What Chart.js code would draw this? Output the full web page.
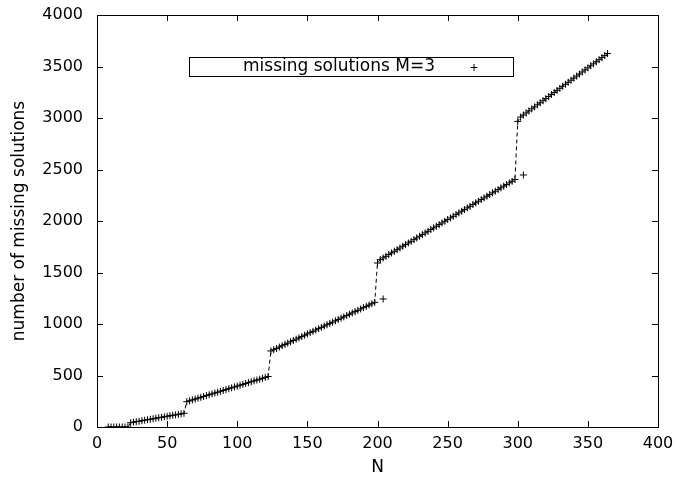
<!DOCTYPE html>
<html>
<head>
<meta charset="utf-8">
<script src="https://cdn.jsdelivr.net/npm/chart.js@4.4.1/dist/chart.umd.min.js"></script>
<style>
  body { margin: 0; background: #fff; }
  canvas { display: block; }
</style>
</head>
<body>
<canvas id="missingChart" width="674" height="486"></canvas>
<script>
// N values (step 2) and number of missing solutions
const nValues = [
    8, 10, 12, 14, 16, 18, 20, 22,
    24, 26, 28, 30, 32, 34, 36, 38, 40, 42, 44, 46, 48, 50, 52, 54, 56, 58, 60, 62,
    64, 66, 68, 70, 72, 74, 76, 78, 80, 82, 84, 86, 88, 90, 92, 94, 96, 98, 100,
    102, 104, 106, 108, 110, 112, 114, 116, 118, 120, 122,
    124, 126, 128, 130, 132, 134, 136, 138, 140, 142, 144, 146, 148, 150, 152, 154,
    156, 158, 160, 162, 164, 166, 168, 170, 172, 174, 176, 178, 180, 182, 184, 186,
    188, 190, 192, 194, 196, 198,
    200, 202, 204, 206, 208, 210, 212, 214, 216, 218, 220, 222, 224, 226, 228, 230,
    232, 234, 236, 238, 240, 242, 244, 246, 248, 250, 252, 254, 256, 258, 260, 262,
    264, 266, 268, 270, 272, 274, 276, 278, 280, 282, 284, 286, 288, 290, 292, 294,
    296, 298,
    300, 302, 304, 306, 308, 310, 312, 314, 316, 318, 320, 322, 324, 326, 328, 330,
    332, 334, 336, 338, 340, 342, 344, 346, 348, 350, 352, 354, 356, 358, 360, 362, 364
];
const missingValues = [
    0, 0, 0, 0, 0, 0, 0, 0,
    42, 47, 52, 56, 61, 66, 71, 75, 80, 85, 90, 94, 99, 104, 109, 114, 118, 123, 128, 133,
    246, 254, 263, 271, 280, 288, 296, 305, 313, 322, 330, 338, 347, 355, 364, 372, 380, 389, 397,
    406, 414, 422, 431, 439, 448, 456, 464, 473, 481, 490,
    738, 751, 763, 776, 789, 802, 814, 827, 840, 853, 865, 878, 891, 904, 916, 929,
    942, 955, 967, 980, 993, 1006, 1018, 1031, 1044, 1057, 1069, 1082, 1095, 1108, 1120, 1133,
    1146, 1159, 1171, 1184, 1197, 1210,
    1592, 1625, 1641, 1657, 1674, 1690, 1706, 1722, 1738, 1755, 1771, 1787, 1803, 1819, 1836, 1852,
    1868, 1884, 1900, 1917, 1933, 1949, 1965, 1981, 1998, 2014, 2030, 2046, 2062, 2079, 2095, 2111,
    2127, 2143, 2160, 2176, 2192, 2208, 2224, 2241, 2257, 2273, 2289, 2305, 2322, 2338, 2354, 2370,
    2386, 2403,
    2967, 3009, 3029, 3049, 3069, 3089, 3108, 3128, 3148, 3168, 3188, 3208, 3228, 3248, 3268, 3288,
    3308, 3327, 3347, 3367, 3387, 3407, 3427, 3447, 3467, 3487, 3507, 3526, 3546, 3566, 3586, 3606, 3626
];
// stray points that sit off the dashed line
const extraN = [204, 304];
const extraMissing = [1243, 2447];

const xTicks = [0, 50, 100, 150, 200, 250, 300, 350, 400];
const yTicks = [0, 500, 1000, 1500, 2000, 2500, 3000, 3500, 4000];

const seriesLabel = 'missing solutions M=3';
const FONT = 'DejaVu Sans';

const linePoints = nValues.map((n, i) => ({ x: n, y: missingValues[i] }));
const markerPoints = linePoints.concat(extraN.map((n, i) => ({ x: n, y: extraMissing[i] })));

// keep the plot box where the reference has it
function noPadding(s) {
    s.paddingTop = 0;
    s.paddingBottom = 0;
    s.paddingLeft = 0;
    s.paddingRight = 0;
}

// border box, inward ticks (mirrored) and the gnuplot style key
const framePlugin = {
    id: 'frame',
    afterDraw(chart) {
        const { ctx, chartArea: a, scales } = chart;
        const len = 6;
        ctx.save();
        ctx.strokeStyle = '#000';
        ctx.lineWidth = 1;
        ctx.strokeRect(a.left + 0.5, a.top + 0.5, a.right - a.left, a.bottom - a.top);
        ctx.beginPath();
        xTicks.forEach(v => {
            const px = Math.round(scales.x.getPixelForValue(v)) + 0.5;
            ctx.moveTo(px, a.bottom);
            ctx.lineTo(px, a.bottom - len);
            ctx.moveTo(px, a.top);
            ctx.lineTo(px, a.top + len);
        });
        yTicks.forEach(v => {
            const py = Math.round(scales.y.getPixelForValue(v)) + 0.5;
            ctx.moveTo(a.left, py);
            ctx.lineTo(a.left + len, py);
            ctx.moveTo(a.right, py);
            ctx.lineTo(a.right - len, py);
        });
        ctx.stroke();

        // key box
        ctx.strokeRect(189.5, 57.5, 324, 19);
        ctx.fillStyle = '#000';
        ctx.font = '17px "' + FONT + '"';
        ctx.textBaseline = 'middle';
        ctx.textAlign = 'left';
        ctx.fillText(seriesLabel, 243, 67);
        ctx.beginPath();
        ctx.moveTo(470.5, 67.5);
        ctx.lineTo(477.5, 67.5);
        ctx.moveTo(474, 64);
        ctx.lineTo(474, 71);
        ctx.stroke();
        ctx.restore();
    }
};

const ctx = document.getElementById('missingChart').getContext('2d');
new Chart(ctx, {
    type: 'scatter',
    data: {
        datasets: [{
            label: seriesLabel,
            data: markerPoints,
            showLine: false,
            pointStyle: 'cross',
            pointRadius: 3.5,
            pointBorderWidth: 1,
            borderColor: '#000',
            backgroundColor: '#000'
        }, {
            label: 'line',
            data: linePoints,
            showLine: true,
            pointRadius: 0,
            borderColor: '#000',
            borderWidth: 1,
            borderDash: [4, 3]
        }]
    },
    options: {
        responsive: false,
        animation: false,
        devicePixelRatio: 1,
        layout: { autoPadding: false, padding: { top: 15, right: 16, left: 0, bottom: 0 } },
        plugins: {
            legend: { display: false },
            tooltip: { enabled: false }
        },
        scales: {
            x: {
                type: 'linear',
                min: 0,
                max: 400,
                afterBuildTicks: s => { s.ticks = xTicks.map(v => ({ value: v })); },
                afterFit: s => { s.height = 59; noPadding(s); },
                grid: { display: false, drawTicks: false },
                border: { display: false },
                ticks: {
                    color: '#000',
                    padding: 7,
                    font: { family: FONT, size: 16 },
                    callback: v => String(v)
                },
                title: {
                    display: true,
                    text: 'N',
                    color: '#000',
                    font: { family: FONT, size: 17 },
                    padding: { top: 0, bottom: 8 }
                }
            },
            y: {
                type: 'linear',
                min: 0,
                max: 4000,
                afterBuildTicks: s => { s.ticks = yTicks.map(v => ({ value: v })); },
                afterFit: s => { s.width = 97; noPadding(s); },
                grid: { display: false, drawTicks: false },
                border: { display: false },
                ticks: {
                    color: '#000',
                    padding: 14,
                    font: { family: FONT, size: 16 },
                    callback: v => String(v)
                },
                title: {
                    display: true,
                    text: 'number of missing solutions',
                    color: '#000',
                    font: { family: FONT, size: 17 },
                    padding: { top: 9, bottom: 0 }
                }
            }
        }
    },
    plugins: [framePlugin]
});
</script>
</body>
</html>
